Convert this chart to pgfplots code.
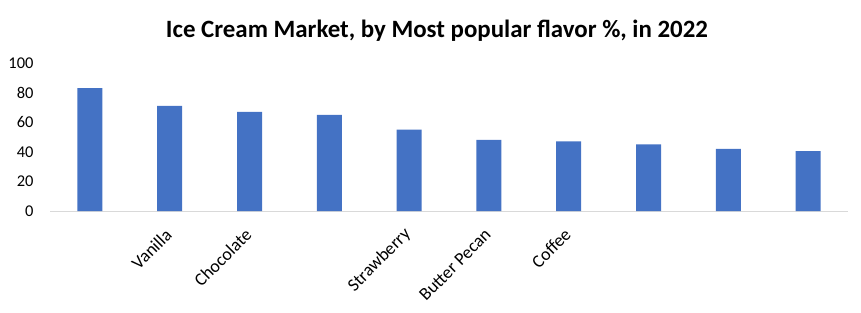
\documentclass[border=0pt]{standalone}
\usepackage{pgfplots}
\pgfplotsset{compat=1.18}
\usepackage{fontspec}
\setmainfont{Carlito}
\definecolor{barblue}{HTML}{4472C4}
\definecolor{axgray}{HTML}{D9D9D9}
\begin{document}
\begin{tikzpicture}[x=1bp,y=1bp]
\useasboundingbox (0,0) rectangle (861,312);
\node[font=\fontsize{25}{28}\selectfont\bfseries] at (437,281) {Ice Cream Market, by Most popular flavor \%, in 2022};
\begin{axis}[
  at={(50bp,101bp)}, anchor=south west,
  scale only axis, width=798bp, height=148bp,
  xmin=-0.5, xmax=9.5, ymin=0, ymax=100,
  ytick={0,20,40,60,80,100},
  xtick={0,...,9},
  xticklabels={,Vanilla,Chocolate,,Strawberry,Butter Pecan,Coffee,,,},
  axis y line*=left,
  axis x line*=bottom,
  y axis line style={draw=none},
  x axis line style={draw=axgray, line width=1bp, -},
  major tick length=0pt,
  ytick style={draw=none}, xtick style={draw=none},
  /pgf/number format/assume math mode=true,
  ticklabel style={text=black},
  yticklabel style={font=\fontsize{16.5}{20}\selectfont, anchor=east, xshift=-13bp},
  xticklabel style={font=\fontsize{18}{21}\selectfont, rotate=45, anchor=east, yshift=-14bp, xshift=-12bp},
  ]
  \addplot[ybar, bar width=25bp, fill=barblue, draw=none] coordinates {
    (0,83) (1,71) (2,67) (3,65) (4,55) (5,48) (6,47) (7,45) (8,42) (9,40.5)
  };
\end{axis}
\end{tikzpicture}
\end{document}
